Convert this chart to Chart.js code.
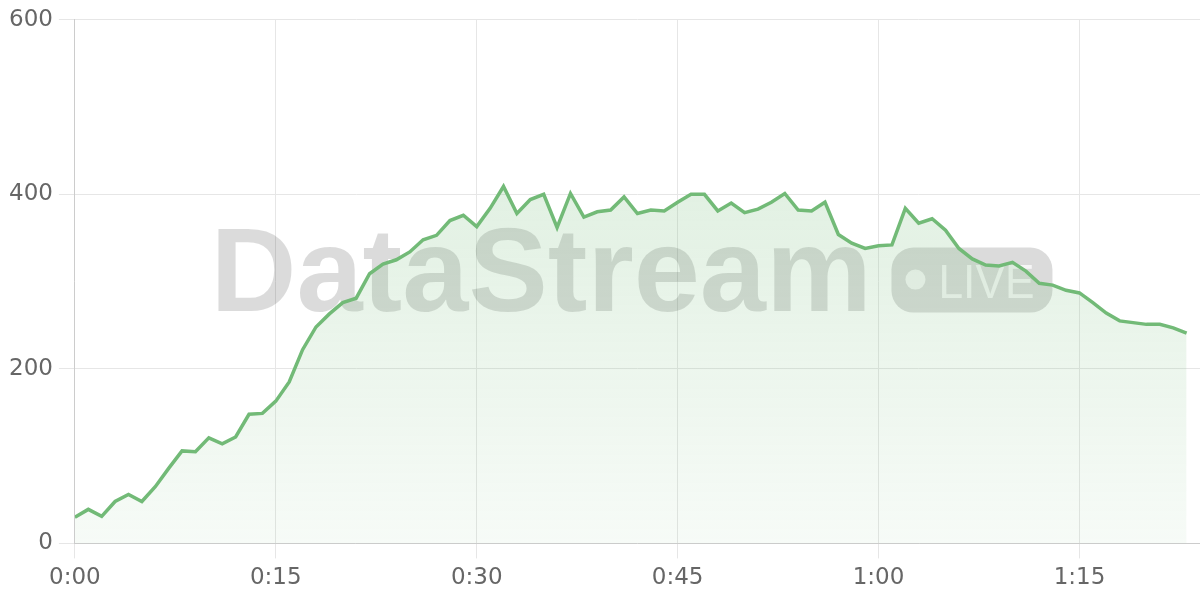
<!DOCTYPE html>
<html>
<head>
<meta charset="utf-8">
<script src="https://cdn.jsdelivr.net/npm/chart.js@4/dist/chart.umd.min.js"></script>
<style>
    html, body { margin: 0; padding: 0; background: #fff; }
    #wrap { width: 1200px; height: 600px; position: relative; }
</style>
</head>
<body>
<div id="wrap"><canvas id="streamChart"></canvas></div>
<script>
/* viewers per minute since stream start */
var values = [
    30, 39, 31, 48, 56, 48, 65, 86, 106, 105,
    121, 114, 122, 148, 149, 163, 185, 222, 248, 263,
    276, 281, 309, 320, 325, 334, 348, 353, 370, 376,
    363, 384, 409, 378, 394, 400, 362, 401, 374, 380,
    382, 397, 378, 382, 381, 391, 400, 400, 381, 390,
    379, 383, 391, 401, 382, 381, 391, 354, 344, 338,
    341, 342, 384, 367, 372, 359, 338, 326, 319, 318,
    322, 312, 298, 296, 290, 287, 276, 264, 255, 253,
    251, 251, 247, 241
];
var tickMinutes = [0, 15, 30, 45, 60, 75];
var tickLabels = ['0:00', '0:15', '0:30', '0:45', '1:00', '1:15'];
var yTicks = [0, 200, 400, 600];

var points = values.map(function (v, i) { return { x: i, y: v }; });

var watermark = {
    id: 'watermark',
    beforeDatasetsDraw: function (chart) {
        var ctx = chart.ctx;
        var a = chart.chartArea;
        var cx = (a.left + a.right) / 2;
        var cy = (a.top + a.bottom) / 2;
        ctx.save();
        ctx.fillStyle = 'rgba(0,0,0,0.14)';
        ctx.font = 'bold 119px "Liberation Sans"';
        ctx.textBaseline = 'alphabetic';
        ctx.textAlign = 'left';
        ctx.fillText('DataStream', cx - 427, cy + 29, 662);

        // LIVE badge
        var bx = cx + 254, by = cy - 34, bw = 161, bh = 65, r = 22;
        ctx.beginPath();
        ctx.moveTo(bx + r, by);
        ctx.arcTo(bx + bw, by, bx + bw, by + bh, r);
        ctx.arcTo(bx + bw, by + bh, bx, by + bh, r);
        ctx.arcTo(bx, by + bh, bx, by, r);
        ctx.arcTo(bx, by, bx + bw, by, r);
        ctx.closePath();
        ctx.fill();

        ctx.fillStyle = 'rgba(255,255,255,0.75)';
        ctx.beginPath();
        ctx.arc(bx + 24, cy - 2, 10, 0, Math.PI * 2);
        ctx.fill();
        ctx.font = '49px "Liberation Sans"';
        ctx.fillText('LIVE', bx + 47, cy + 16, 96);
        ctx.restore();
    }
};

new Chart(document.getElementById('streamChart'), {
    type: 'line',
    data: {
        datasets: [{
            data: points,
            borderColor: '#72ba77',
            borderWidth: 3.5,
            pointRadius: 0,
            tension: 0,
            fill: true,
            backgroundColor: function (c) {
                var area = c.chart.chartArea;
                if (!area) return 'rgba(114,186,119,0.15)';
                var g = c.chart.ctx.createLinearGradient(0, area.top, 0, area.bottom);
                g.addColorStop(0, 'rgba(114,186,119,0.28)');
                g.addColorStop(1, 'rgba(114,186,119,0.06)');
                return g;
            }
        }]
    },
    options: {
        responsive: true,
        maintainAspectRatio: false,
        animation: false,
        layout: { padding: { left: 3, top: 6, right: 0, bottom: 2 } },
        plugins: {
            legend: { display: false },
            tooltip: { enabled: false }
        },
        scales: {
            x: {
                type: 'linear',
                min: 0,
                max: 84,
                afterBuildTicks: function (axis) {
                    axis.ticks = tickMinutes.map(function (m) { return { value: m }; });
                },
                ticks: {
                    color: '#666',
                    font: { family: 'DejaVu Sans', size: 23 },
                    padding: 6,
                    maxRotation: 0,
                    callback: function (v) {
                        var k = tickMinutes.indexOf(v);
                        return k >= 0 ? tickLabels[k] : '';
                    }
                },
                grid: { color: '#e6e6e6', tickLength: 15 },
                border: { color: '#cccccc', width: 1 }
            },
            y: {
                min: 0,
                max: 600,
                afterBuildTicks: function (axis) {
                    axis.ticks = yTicks.map(function (v) { return { value: v }; });
                },
                ticks: {
                    color: '#666',
                    font: { family: 'DejaVu Sans', size: 23 },
                    padding: 6
                },
                grid: { color: '#e6e6e6', tickLength: 16 },
                border: { color: '#cccccc', width: 1 }
            }
        }
    },
    plugins: [watermark]
});
</script>
</body>
</html>
